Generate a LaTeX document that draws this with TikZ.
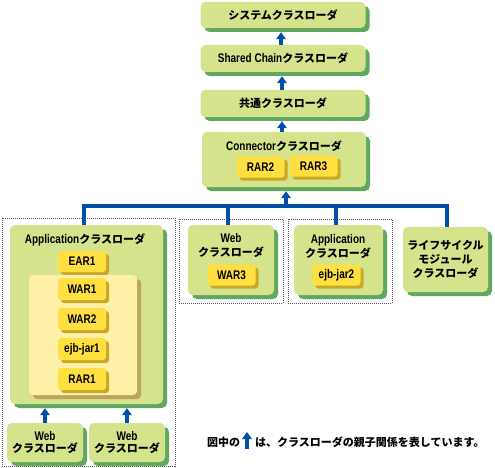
\documentclass[tikz,border=0pt]{standalone}
\usepackage{fontspec}
\setmainfont{Noto Sans CJK JP}
\newfontfamily\ltfam{Liberation Sans}[FakeStretch=0.8]
\newcommand\lt{\ltfam\fontsize{12.5}{14}\selectfont}
\usetikzlibrary{shadows,arrows.meta}
\definecolor{gfill}{HTML}{D4E38C}
\definecolor{gshadow}{HTML}{60A860}
\definecolor{yfill}{HTML}{FFE040}
\definecolor{yshadow}{HTML}{C8A828}
\definecolor{pfill}{HTML}{FFF0A8}
\definecolor{pshadow}{HTML}{BBA55A}
\definecolor{lblue}{HTML}{0050A8}
\definecolor{dotgray}{HTML}{555555}
\tikzset{
  gbox/.style={fill=gfill, rounded corners=5pt, align=center,
    drop shadow={shadow xshift=4pt, shadow yshift=-4pt, fill=gshadow, opacity=1}},
  ybox/.style={fill=yfill, rounded corners=3pt, minimum width=48pt, minimum height=21pt,
    drop shadow={shadow xshift=3pt, shadow yshift=-3pt, fill=yshadow, opacity=1}},
  pbox/.style={fill=pfill, rounded corners=4pt,
    drop shadow={shadow xshift=4pt, shadow yshift=-4pt, fill=pshadow, opacity=1}},
  grp/.style={draw=dotgray, line width=0.8pt, dash pattern=on 1pt off 1pt},
  arr/.style={draw=lblue, line width=3.2pt, -{Triangle[width=9.5pt,length=7pt]}},
  busline/.style={draw=lblue, line width=3.2pt, line join=miter},
}
\begin{document}
\begin{tikzpicture}[x=1pt,y=-1pt,
  every node/.style={font=\bfseries\fontsize{11}{14}\selectfont, inner sep=0pt}]
\useasboundingbox (0,0) rectangle (495,468);

% dotted groups
\node[grp, minimum width=173, minimum height=248] (grpA) at (88.5,342) {};
\node[grp, minimum width=104, minimum height=84] (grpB) at (231,261) {};
\node[grp, minimum width=104, minimum height=84] (grpC) at (340,261) {};

% top chain
\node[gbox, minimum width=165, minimum height=26] (sys) at (283,15) {システムクラスローダ};
\node[gbox, minimum width=165, minimum height=27] (shared) at (283,58.5) {{\lt Shared Chain}クラスローダ};
\node[gbox, minimum width=165, minimum height=27] (common) at (283,103.5) {共通クラスローダ};
\node[gbox, minimum width=164, minimum height=55] (conn) at (284,159.5) {};
\node (connlbl) at (284,146) {{\lt Connector}クラスローダ};
\node[ybox] (rar2) at (260.5,167) {\lt RAR2};
\node[ybox] (rar3) at (313.5,166) {\lt RAR3};

\draw[arr] ([xshift=-2pt]shared.north) -- ([xshift=-2pt,yshift=-4pt]sys.south);
\draw[arr] ([xshift=-1pt]common.north) -- ([xshift=-1pt,yshift=-4pt]shared.south);
\draw[arr] ([xshift=-2pt]conn.north) -- ([xshift=-1pt,yshift=-4pt]common.south);

% second row boxes
\node[gbox, minimum width=153, minimum height=179] (app) at (86.5,314.5) {};
\node[gbox, minimum width=86, minimum height=70] (webB) at (231,260) {};
\node[gbox, minimum width=89, minimum height=70] (appC) at (338.5,260) {};
\node[gbox, minimum width=85, minimum height=65] (life) at (445.5,259.5)
  {ライフサイクル\\モジュール\\クラスローダ};

% bus
\coordinate (bL) at (84,206);
\coordinate (bW) at (228,206);
\coordinate (bM) at (286,206);
\coordinate (bC) at (336,206);
\coordinate (bR) at (447,206);
\draw[busline] (bL |- app.north) -- (bL) -- (bR) -- (bR |- life.north);
\draw[busline] (bW) -- (bW |- webB.north);
\draw[busline] (bC) -- (bC |- appC.north);
\draw[arr] (bM) -- ([xshift=2pt,yshift=-4pt]conn.south);

% application box contents
\node (applbl) at (85,240) {{\lt Application}クラスローダ};
\node[ybox] (ear1) at (82,261.5) {\lt EAR1};
\node[pbox, minimum width=108, minimum height=120] (panel) at (83,335) {};
\node[ybox, minimum height=22] (war1) at (82,289) {\lt WAR1};
\node[ybox, minimum height=22] (war2) at (82,319) {\lt WAR2};
\node[ybox, minimum height=22] (ejb1) at (82,349) {\lt ejb-jar1};
\node[ybox, minimum height=22] (rar1) at (82,379) {\lt RAR1};

% web B / app C contents
\node[align=center] (weblbl) at (231,245.5) {{\lt Web}\\クラスローダ};
\node[ybox] (war3) at (231.5,275) {\lt WAR3};
\node[align=center] (appClbl) at (338,246.5) {{\lt Application}\\クラスローダ};
\node[ybox] (ejb2) at (336.5,275) {\lt ejb-jar2};

% bottom web loaders
\node[gbox, minimum width=76, minimum height=39, font=\bfseries\fontsize{11}{12.5}\selectfont] (webL) at (45,442.5) {{\lt Web}\\クラスローダ};
\node[gbox, minimum width=76, minimum height=39, font=\bfseries\fontsize{11}{12.5}\selectfont] (webR) at (127,442.5) {{\lt Web}\\クラスローダ};
\coordinate (appbot) at ([yshift=-4pt]app.south);
\draw[arr] (webL.north) -- (webL.north |- appbot);
\draw[arr] (webR.north) -- (webR.north |- appbot);

% legend
\node[anchor=west] (leg1) at (207,442) {図中の};
\coordinate (la) at (247,449);
\coordinate (lb) at (247,432);
\draw[arr] (la) -- (lb);
\node[anchor=west] (leg2) at (255,442) {は、クラスローダの親子関係を表しています。};
\end{tikzpicture}
\end{document}
